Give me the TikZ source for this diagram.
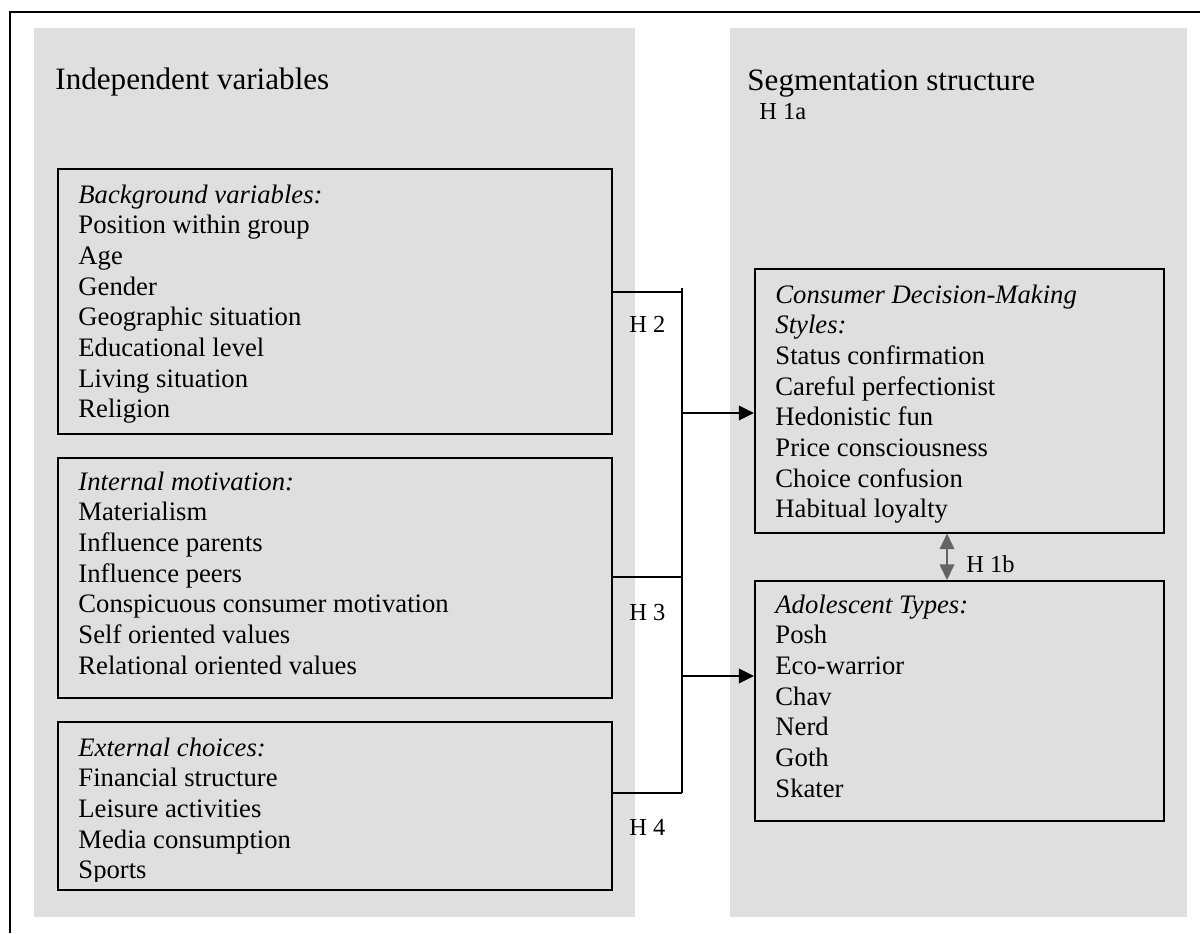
\documentclass[tikz,border=0pt]{standalone}
\usepackage{fontspec}
\setmainfont{Liberation Serif}
\usetikzlibrary{arrows.meta,positioning}
\definecolor{panelGray}{RGB}{223,223,223}
\definecolor{arrowGray}{RGB}{100,100,100}
\newcommand{\pxu}{0.45pt}
\newcommand{\bodyfont}{\fontsize{12}{13.8}\selectfont}
\newcommand{\vlist}[1]{\begin{tabular}[t]{@{}l@{}}#1\end{tabular}}

\begin{document}
\begin{tikzpicture}[x=0.45pt, y=-0.45pt,
  vbox/.style={draw, line width=0.7pt, anchor=north west, inner sep=0pt},
  txt/.style={anchor=base west, inner sep=0pt, font=\bodyfont},
  ttl/.style={anchor=base west, inner sep=0pt, font=\fontsize{14}{16}\selectfont},
  hyp/.style={anchor=base west, inner sep=0pt, font=\fontsize{11}{13}\selectfont},
  link/.style={line width=0.6pt},
  arr/.style={-{Triangle[length=6.8pt,width=6.6pt]}, line width=0.6pt},
  dbl/.style={{Triangle[length=7pt,width=6.6pt]}-{Triangle[length=7pt,width=6.6pt]},
              line width=0.6pt, arrowGray}
]
  \useasboundingbox (0,0) rectangle (1200,933);

  % frame and the two panels
  \draw[line width=0.9pt] (10,933) -- (10,12) -- (1200,12);
  \fill[panelGray] (34,28) rectangle (635,917);
  \fill[panelGray] (730,28) rectangle (1187,917);

  \node[ttl] (indep) at (55,89) {Independent variables};
  \node[ttl] (segm)  at (747,90) {Segmentation structure};
  \node[hyp] (h1a)   at (759,119) {H 1a};

  % left boxes
  \node[vbox, minimum width=554*\pxu, minimum height=265*\pxu] (bg) at (57,168) {};
  \node[vbox, minimum width=554*\pxu, minimum height=240*\pxu] (im) at (57,457) {};
  \node[vbox, minimum width=554*\pxu, minimum height=168*\pxu] (ex) at (57,721) {};

  \node[txt] (bgtxt) at (78,203) {\vlist{\textit{Background variables:}\\ Position within group\\ Age\\ Gender\\
    Geographic situation\\ Educational level\\ Living situation\\ Religion}};
  \node[txt] (imtxt) at (78,490) {\vlist{\textit{Internal motivation:}\\ Materialism\\ Influence parents\\
    Influence peers\\ Conspicuous consumer motivation\\ Self oriented values\\ Relational oriented values}};
  \begin{scope}
    \clip (57,721) rectangle (611,881);
    \node[txt] (extxt) at (78,756) {\vlist{\textit{External choices:}\\ Financial structure\\ Leisure activities\\
      Media consumption\\ Sports}};
  \end{scope}

  % right boxes
  \node[vbox, minimum width=409*\pxu, minimum height=264*\pxu] (cd) at (754,268) {};
  \node[vbox, minimum width=409*\pxu, minimum height=240*\pxu] (at) at (754,580) {};

  \node[txt] (cdtxt) at (775,303) {\vlist{\textit{Consumer Decision-Making}\\ \textit{Styles:}\\ Status confirmation\\
    Careful perfectionist\\ Hedonistic fun\\ Price consciousness\\ Choice confusion\\ Habitual loyalty}};
  \node[txt] (attxt) at (775,613) {\vlist{\textit{Adolescent Types:}\\ Posh\\ Eco-warrior\\ Chav\\ Nerd\\ Goth\\ Skater}};

  % connectors
  \coordinate (jtop) at (682,288);
  \coordinate (j2) at (682,292);
  \coordinate (j3) at (682,577);
  \coordinate (j4) at (682,793);
  \coordinate (a1) at (682,413);
  \coordinate (a2) at (682,676);
  \coordinate (dd) at (947,556);

  \draw[link] (bg.east |- j2) -- (j2);
  \draw[link] (im.east |- j3) -- (j3);
  \draw[link] (ex.east |- j4) -- (j4);
  \draw[link] (jtop) -- (j4);
  \draw[arr] (a1) -- (cd.west |- a1);
  \draw[arr] (a2) -- (at.west |- a2);
  \draw[dbl] (cd.south -| dd) -- (at.north -| dd);

  \node[hyp] (h2)  at (629,332) {H 2};
  \node[hyp] (h3)  at (629,620) {H 3};
  \node[hyp] (h4)  at (629,835) {H 4};
  \node[hyp] (h1b) at (966,572) {H 1b};
\end{tikzpicture}
\end{document}
